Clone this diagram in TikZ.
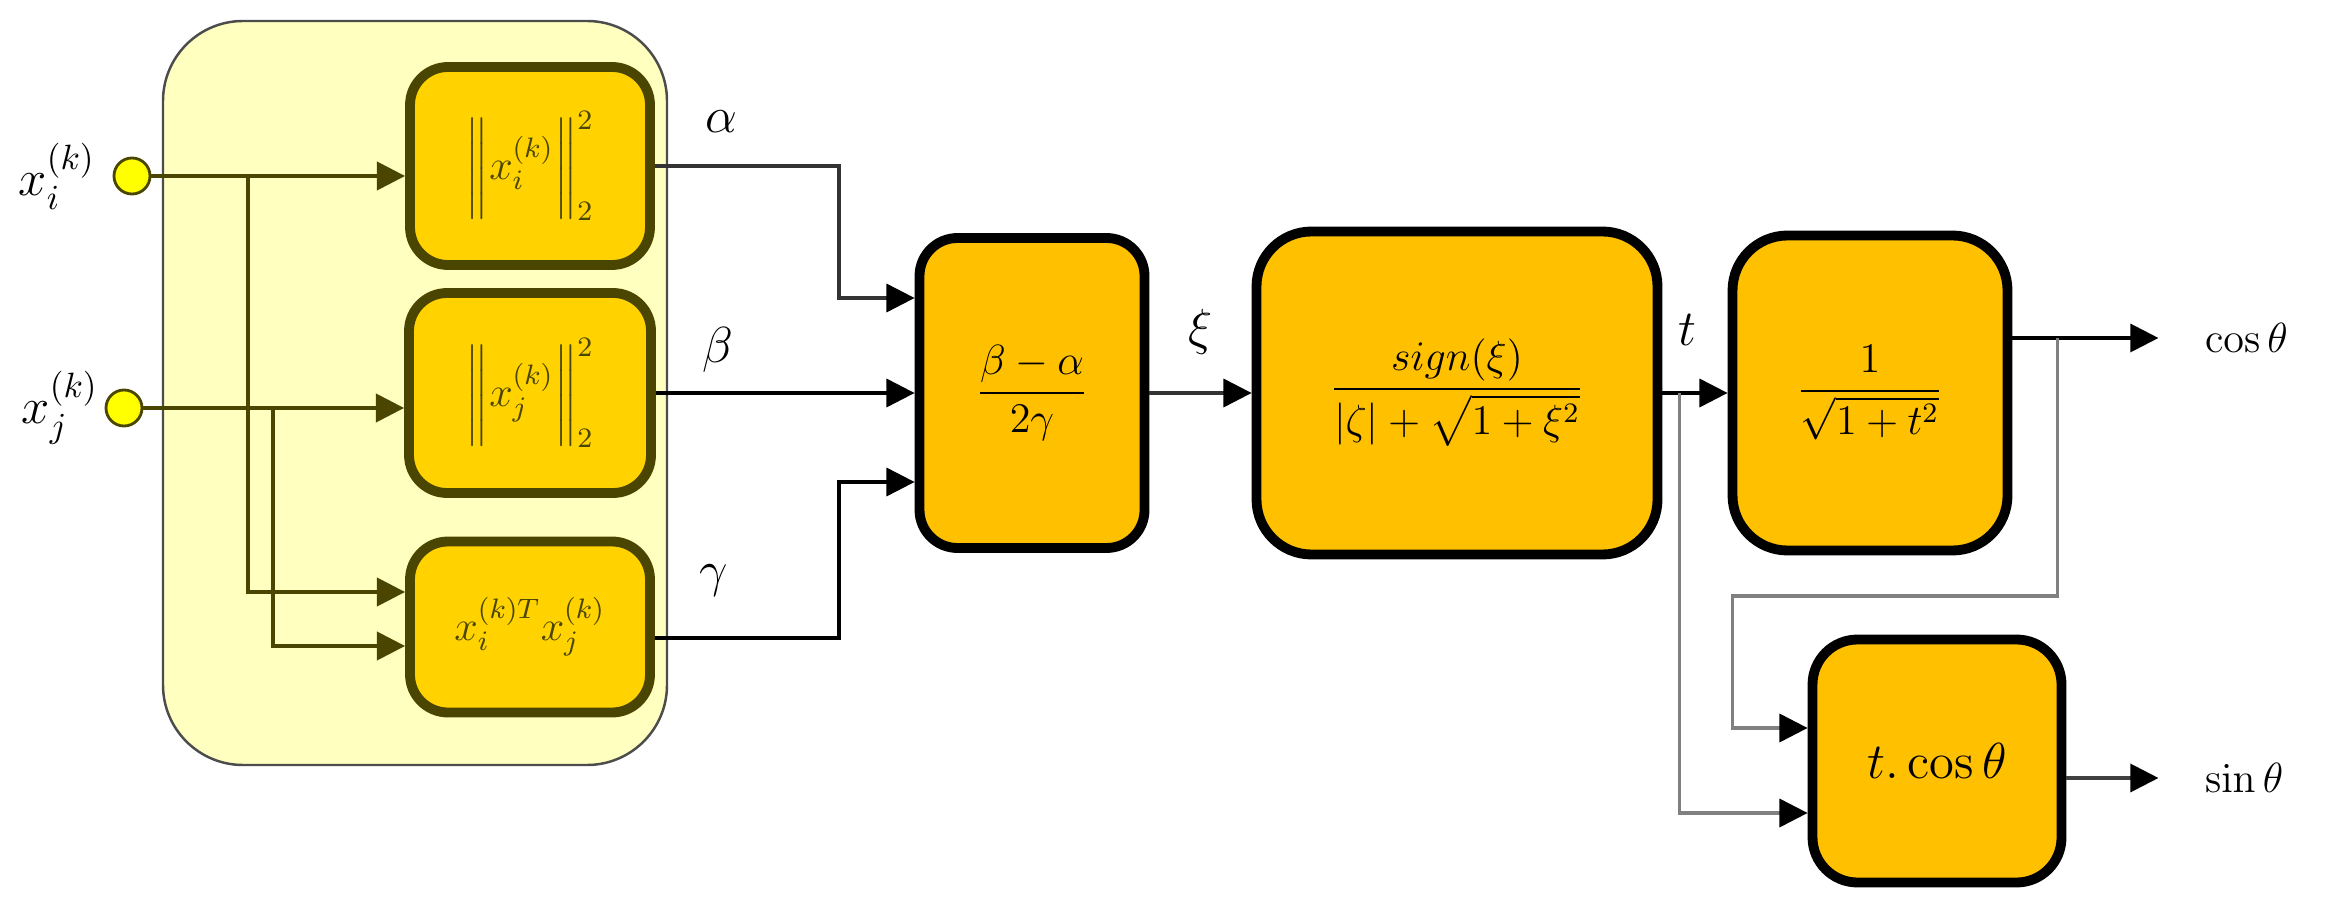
\documentclass[tikz,border=0pt]{standalone}
\usepackage{amsmath}
\usetikzlibrary{arrows.meta,positioning}
\definecolor{panelfill}{HTML}{FFFFC0}
\definecolor{innerfill}{HTML}{FFD200}
\definecolor{innerline}{HTML}{4A4500}
\definecolor{blockfill}{HTML}{FFC000}
\definecolor{portfill}{HTML}{FFFF00}
\tikzset{
  innerbox/.style={draw=innerline,fill=innerfill,line width=2.8pt,rounded corners=.38cm,inner sep=0pt,text=innerline,font=\large},
  block/.style={draw=black,fill=blockfill,line width=2.8pt,rounded corners=.45cm,inner sep=0pt,font=\large},
  inport/.style={circle,draw=innerline,fill=portfill,line width=.8pt,minimum size=.36cm,inner sep=0pt},
  inlink/.style={draw=innerline,line width=1pt,-{Triangle[length=8pt,width=8pt]}},
  link/.style={draw=black!80,line width=.9pt,-{Triangle[length=8pt,width=8pt,color=black]}},
  lbl/.style={inner sep=0pt,font=\Large}
}
\begin{document}
\begin{tikzpicture}
    \useasboundingbox (0,0) rectangle (23.27,-9.04);
    \draw[draw=black!70,fill=panelfill,line width=.7pt,rounded corners=.8cm] (1.63,-.21) rectangle (6.67,-7.65);

    \node[innerbox,minimum width=2.42cm,minimum height=2cm] (normj) at (5.3,-3.93) {$\biggl\|x_j^{(k)}\biggr\|_2^2$};
    \node[innerbox,minimum width=2.4cm,minimum height=1.98cm,above of=normj,node distance=2.27cm] (normi) {$\biggl\|x_i^{(k)}\biggr\|_2^2$};
    \node[innerbox,minimum width=2.4cm,minimum height=1.71cm,below of=normj,node distance=2.34cm] (inner) {$x_i^{(k)T}x_j^{(k)}$};
    \node[block,minimum width=2.25cm,minimum height=3.1cm,rounded corners=.38cm,right of=normj,node distance=5.02cm] (ratio) {$\dfrac{\beta-\alpha}{2\gamma}$};
    \node[block,minimum width=4.01cm,minimum height=3.23cm,rounded corners=.55cm,right of=ratio,node distance=4.25cm] (tangent) {$\dfrac{sign(\xi)}{\left|\zeta\right|+\sqrt{1+\xi^2}}$};
    \node[block,minimum width=2.75cm,minimum height=3.15cm,rounded corners=.55cm,right of=tangent,node distance=4.13cm] (cosine) {$\dfrac{1}{\sqrt{1+t^2}}$};
    \node[block,minimum width=2.49cm,minimum height=2.43cm,font=\Large,below of=cosine,node distance=3.68cm,xshift=.67cm] (sine) {$t.\cos\theta$};

    \node[inport] (ini) at (1.32,-1.76) {};
    \node[inport] (inj) at (1.24,-4.08) {};
    \node[lbl,left of=ini,node distance=.75cm] (labeli) {$x_i^{(k)}$};
    \node[lbl,left of=inj,node distance=.64cm] (labelj) {$x_j^{(k)}$};

    \draw[inlink] (ini) -- (ini -| normi.west);
    \draw[inlink] ([xshift=1.16cm]ini.center) |- ([yshift=.35cm]inner.west);
    \draw[inlink] (inj) -- (inj -| normj.west);
    \draw[inlink] ([xshift=1.49cm]inj.center) |- ([yshift=-.19cm]inner.west);

    \draw[link] (normi.east) -- node[lbl,pos=.36,above=.32cm] (lalpha) {$\alpha$} ++(1.84,0) |- ([yshift=.95cm]ratio.west);
    \draw[link,draw=black] (normj.east) -- node[lbl,pos=.24,above=.19cm] (lbeta) {$\beta$} (ratio.west);
    \draw[link,draw=black] ([yshift=-.11cm]inner.east) -- node[lbl,pos=.32,above=.4cm] (lgamma) {$\gamma$} ++(1.84,0) |- ([yshift=-.89cm]ratio.west);

    \draw[link] (ratio.east) -- node[lbl,above=.37cm] (lxi) {$\xi$} (tangent.west);
    \draw[link,draw=black] (tangent.east) -- node[lbl,pos=.39,above=.46cm] (lt) {$t$} (cosine.west);
    \draw[link,draw=gray] ([xshift=.17cm]tangent.east) |- ([yshift=-.52cm]sine.west);

    \draw[link,draw=black] ([yshift=.55cm]cosine.east) -- ++(1.46,0) node[lbl,right=.45cm,font=\large] (lcos) {$\cos\theta$};
    \draw[link,draw=gray] ([xshift=.45cm,yshift=.55cm]cosine.east) |- ++(-3.25,-2.58) |- ([yshift=.33cm]sine.west);
    \draw[link,draw=black!75] ([yshift=-.17cm]sine.east) -- ++(.92,0) node[lbl,right=.45cm,font=\large] (lsin) {$\sin\theta$};
\end{tikzpicture}
\end{document}
